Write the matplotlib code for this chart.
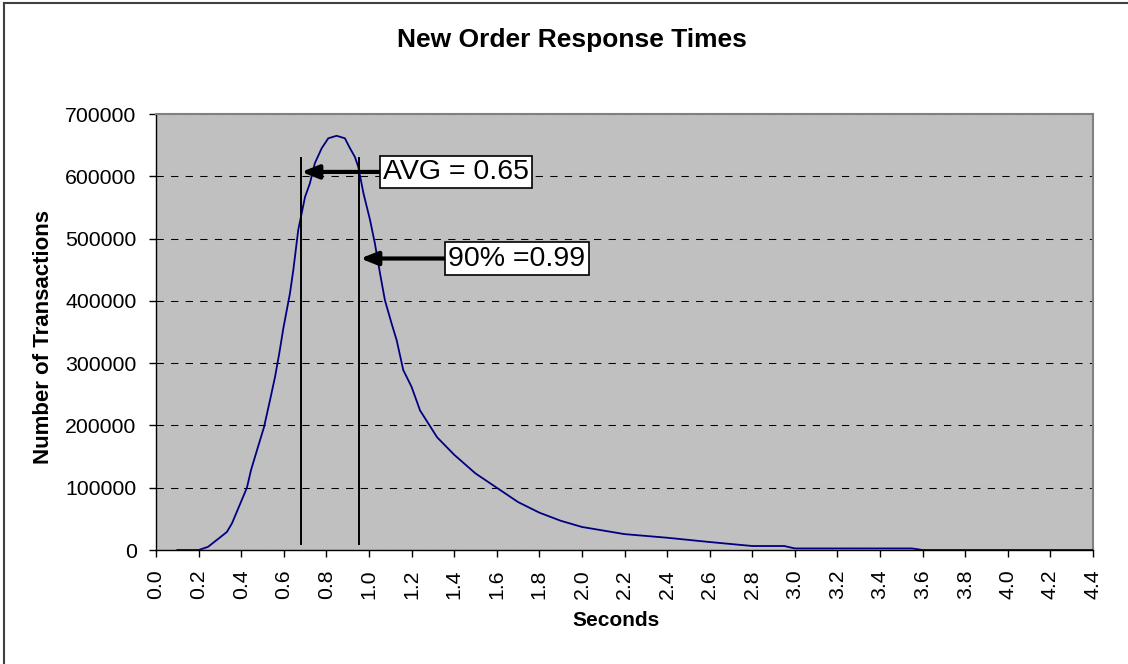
import numpy as np
import pandas as pd
import matplotlib
matplotlib.use("Agg")
import matplotlib.pyplot as plt
from matplotlib.lines import Line2D

plt.rcParams['font.family'] = ['Liberation Sans', 'DejaVu Sans']

# response time distribution
seconds = [0.10, 0.20, 0.244, 0.30, 0.333, 0.357, 0.427, 0.446, 0.474, 0.507, 0.535,
           0.559, 0.579, 0.598, 0.629, 0.645, 0.668, 0.70, 0.723, 0.746, 0.778,
           0.809, 0.848, 0.887, 0.911, 0.934, 0.950, 0.974, 1.005, 1.028, 1.052,
           1.075, 1.106, 1.13, 1.161, 1.20, 1.24, 1.32, 1.40, 1.50, 1.60, 1.70,
           1.80, 1.90, 2.00, 2.20, 2.40, 2.60, 2.80, 2.95, 3.00, 3.55, 3.60, 4.40]
transactions = [0, 0, 5000, 20000, 29000, 43000, 100000, 128000, 160000, 197000, 240000,
                278000, 316000, 356000, 412000, 450000, 514000, 567000, 589000, 621000, 645000,
                661000, 665000, 661000, 645000, 631000, 615000, 573000, 530000, 492000, 444000,
                401000, 364000, 337000, 289000, 262000, 224000, 181000, 153000, 123000, 100000, 77000,
                60000, 47000, 37000, 25500, 19700, 12800, 6400, 6400, 2500, 2500, 0, 0]

marker_x = [0.68, 0.955]
marker_top = 630000
marker_bottom = 10000

labels = ["AVG = 0.65", "90% =0.99"]
label_tip = [(0.683, 607000), (0.96, 468000)]
label_pos = [(1.066, 607000), (1.373, 468000)]

fig = plt.figure(figsize=(11.28, 6.64), dpi=100)
ax = fig.add_axes([156/1128, 114/664, (1093-156)/1128, (550-114)/664])
ax.set_facecolor('#C0C0C0')

ax.plot(seconds, transactions, color='#000080', lw=1.3, zorder=3)

for xv in marker_x:
    ax.plot([xv, xv], [marker_bottom, marker_top], color='black', lw=1.4, zorder=4)

for txt, tip, pos in zip(labels, label_tip, label_pos):
    ax.annotate(txt, xy=tip, xytext=pos, fontsize=20.5, ha='left', va='center',
                bbox=dict(boxstyle='square,pad=0.12', fc='white', ec='black', lw=1.2),
                arrowprops=dict(arrowstyle='-|>,head_length=0.5,head_width=0.2',
                                lw=3, color='black', shrinkA=0, shrinkB=0),
                zorder=5)

ax.set_xlim(0, 4.4)
ax.set_ylim(0, 700000)
xt = np.round(np.arange(0, 4.41, 0.2), 1)
ax.set_xticks(xt)
ax.set_xticklabels([f"{v:.1f}" for v in xt], rotation=90)
ax.set_yticks(range(0, 700001, 100000))
ax.set_yticklabels([str(v) for v in range(0, 700001, 100000)])
ax.tick_params(axis='both', direction='out', length=5, width=1, labelsize=15.3, pad=9)

ax.grid(axis='y', color='black', lw=0.75, linestyle=(0, (7, 7)))
ax.set_axisbelow(True)

for s in ['top', 'right']:
    ax.spines[s].set_color('#808080')
    ax.spines[s].set_linewidth(1.5)
for s in ['left', 'bottom']:
    ax.spines[s].set_color('black')
    ax.spines[s].set_linewidth(1)

fig.text(572/1128, 1 - 40/664, "New Order Response Times", ha='center', va='center',
         fontsize=19, fontweight='bold')
fig.text(44/1128, 1 - 337/664, "Number of Transactions", ha='center', va='center',
         rotation=90, fontsize=16, fontweight='bold')
fig.text(616/1128, 1 - 620/664, "Seconds", ha='center', va='center',
         fontsize=15, fontweight='bold')

# outer chart frame (left and top visible)
fig.add_artist(Line2D([4/1128, 4/1128], [0, 1 - 3/664], color='#404040', lw=1.5))
fig.add_artist(Line2D([4/1128, 1], [1 - 3/664, 1 - 3/664], color='#404040', lw=1.5))

fig.savefig("out.png", dpi=100)
